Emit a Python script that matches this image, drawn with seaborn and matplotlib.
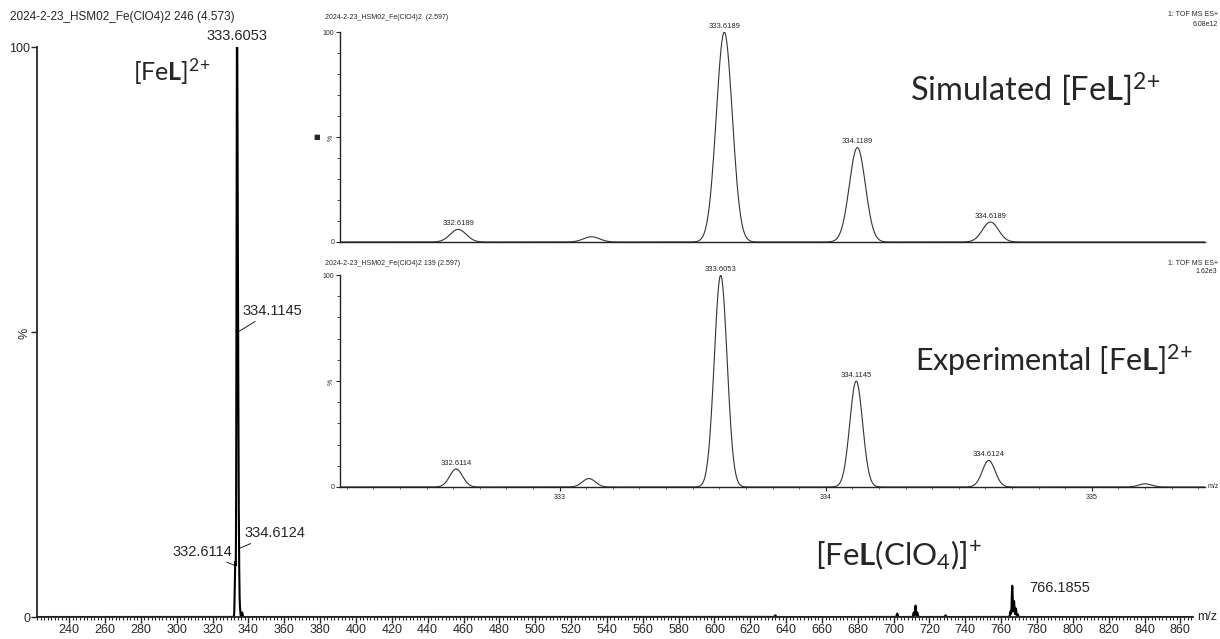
import numpy as np
import pandas as pd
import matplotlib
matplotlib.use("Agg")
import matplotlib.pyplot as plt
from matplotlib.ticker import MultipleLocator
import seaborn as sns

# Peak lists (m/z, relative intensity in %)
main_mz = [332.6114, 333.11, 333.6053, 334.1145, 334.6124, 335.2, 336.5,
           634.0, 702.0, 711.2, 712.2, 713.2, 729.0, 765.2, 766.1855, 767.19, 768.2, 769.2]
main_int = [9, 4, 100, 50, 12, 1.5, 0.8,
            0.3, 0.6, 0.8, 2.0, 0.8, 0.3, 1.0, 5.5, 2.8, 1.5, 0.5]
main_labels = {333.6053: "333.6053", 334.1145: "334.1145", 334.6124: "334.6124",
               332.6114: "332.6114", 766.1855: "766.1855"}

sim_mz = [332.6189, 333.12, 333.6189, 334.1189, 334.6189]
sim_int = [6, 2.5, 100, 45, 9.5]
sim_labels = ["332.6189", None, "333.6189", "334.1189", "334.6189"]

exp_mz = [332.6114, 333.11, 333.6053, 334.1145, 334.6124, 335.2]
exp_int = [8.5, 4, 100, 50, 12.5, 1.5]
exp_labels = ["332.6114", None, "333.6053", "334.1145", "334.6124", None]

main_ticks = list(range(240, 861, 20))
inset_ticks = [333, 334, 335]


def profile(mz, inten, sigma, lo, hi):
    # peak list -> profile trace with instrument peak width sigma
    x = [np.arange(lo, hi, 0.25)]
    for c in mz:
        x.append(np.linspace(c - 5 * sigma, c + 5 * sigma, 80))
    x = np.unique(np.concatenate(x))
    y = np.zeros_like(x)
    for c, h in zip(mz, inten):
        y += h * np.exp(-0.5 * ((x - c) / sigma) ** 2)
    return pd.DataFrame({"mz": x, "intensity": y})


sns.set_style("ticks")
plt.rcParams["font.family"] = ["Liberation Sans", "DejaVu Sans"]
plt.rcParams["mathtext.fontset"] = "custom"
plt.rcParams["mathtext.rm"] = "Lato"
plt.rcParams["mathtext.bf"] = "Lato:bold"
plt.rcParams["mathtext.it"] = "Lato:italic"

fig = plt.figure(figsize=(12.2, 6.39), dpi=100)

# ---- main spectrum ----
ax = fig.add_axes([0.0303, 0.0344, 0.9475, 0.892])
df_main = profile(main_mz, main_int, 0.25, 222, 867)
sns.lineplot(data=df_main, x="mz", y="intensity", ax=ax, color="black",
             lw=1.5, estimator=None)
ax.set_xlim(222, 867)
ax.set_ylim(0, 100)
ax.set_xticks(main_ticks)
ax.xaxis.set_minor_locator(MultipleLocator(2))
ax.set_yticks([0, 50, 100])
ax.set_yticklabels(["0", "%", "100"])
ax.get_yticklabels()[1].set_rotation(90)
ax.yaxis.set_minor_locator(MultipleLocator(10))
ax.tick_params(axis="x", which="major", length=4, width=1, labelsize=9, pad=1)
ax.tick_params(axis="x", which="minor", length=2.5, width=0.8)
ax.tick_params(axis="y", which="major", length=4, width=1, labelsize=9, pad=1)
ax.tick_params(axis="y", which="minor", length=0)
ax.set_xlabel("")
ax.set_ylabel("")
sns.despine(ax=ax)
for s in ["left", "bottom"]:
    ax.spines[s].set_linewidth(1.3)
ax.annotate("m/z", xy=(1, 0), xycoords="axes fraction", xytext=(3, 0),
            textcoords="offset points", va="center", ha="left", fontsize=9)

ann = dict(fontsize=10.5, textcoords="offset points", annotation_clip=False)
line = dict(arrowstyle="-", lw=0.6, color="black", shrinkA=0, shrinkB=0)
ax.annotate(main_labels[333.6053], xy=(333.6053, 100), xytext=(0, 3),
            ha="center", va="bottom", **ann)
ax.annotate(main_labels[334.1145], xy=(334.1145, 50), xytext=(3, 10),
            ha="left", va="bottom", arrowprops=line, **ann)
ax.annotate(main_labels[334.6124], xy=(334.6124, 12), xytext=(4, 6),
            ha="left", va="bottom", arrowprops=line, **ann)
ax.annotate(main_labels[332.6114], xy=(332.6114, 9), xytext=(-2, 5),
            ha="right", va="bottom", arrowprops=line, **ann)
ax.annotate(main_labels[766.1855], xy=(766.1855, 5.5), xytext=(12, -2),
            ha="left", va="center", **ann)

fig.text(0.008, 0.973, "2024-2-23_HSM02_Fe(ClO4)2 246 (4.573)",
         fontsize=8.5, va="center")


# ---- insets ----
def inset(rect, mz, inten, labels, sigma, xticks):
    a = fig.add_axes(rect)
    a.set_facecolor("white")
    d = profile(mz, inten, sigma, 332.0, 335.6)
    sns.lineplot(data=d, x="mz", y="intensity", ax=a, color="#333333",
                 lw=0.8, estimator=None)
    a.set_xlim(332.175, 335.425)
    a.set_ylim(0, 100)
    a.set_yticks([0, 50, 100])
    a.set_yticklabels(["0", "%", "100"])
    a.get_yticklabels()[1].set_rotation(90)
    a.yaxis.set_minor_locator(MultipleLocator(10))
    a.tick_params(axis="y", which="major", length=3, width=0.8, labelsize=5, pad=1)
    a.tick_params(axis="y", which="minor", length=2, width=0.6)
    if xticks:
        a.set_xticks(xticks)
        a.xaxis.set_minor_locator(MultipleLocator(0.1))
        a.tick_params(axis="x", which="major", length=3, width=0.8, labelsize=5, pad=2)
        a.tick_params(axis="x", which="minor", length=1.5, width=0.5)
        a.annotate("m/z", xy=(1, 0), xycoords="axes fraction", xytext=(2, 0),
                   textcoords="offset points", va="center", fontsize=5)
    else:
        a.set_xticks([])
    a.set_xlabel("")
    a.set_ylabel("")
    sns.despine(ax=a)
    for s in ["left", "bottom"]:
        a.spines[s].set_linewidth(1.0)
        a.spines[s].set_color("#222222")
    for c, h, lab in zip(mz, inten, labels):
        if lab:
            a.annotate(lab, xy=(c, h), xytext=(0, 1.5), textcoords="offset points",
                       ha="center", va="bottom", fontsize=5.5, annotation_clip=False)
    return a


ax1 = inset([0.2787, 0.6213, 0.709, 0.3286], sim_mz, sim_int, sim_labels, 0.03, None)
ax2 = inset([0.2787, 0.2379, 0.709, 0.3317], exp_mz, exp_int, exp_labels, 0.024, inset_ticks)

fig.text(0.266, 0.973, "2024-2-23_HSM02_Fe(ClO4)2  (2.597)", fontsize=5, va="center")
fig.text(0.998, 0.977, "1: TOF MS ES+", fontsize=5, va="center", ha="right")
fig.text(0.998, 0.962, "6.08e12", fontsize=5, va="center", ha="right")
fig.text(0.266, 0.588, "2024-2-23_HSM02_Fe(ClO4)2 139 (2.597)", fontsize=5, va="center")
fig.text(0.998, 0.588, "1: TOF MS ES+", fontsize=5, va="center", ha="right")
fig.text(0.998, 0.575, "1.62e3", fontsize=5, va="center", ha="right")
fig.text(0.2566, 0.786, "\u25a0", fontsize=5, va="center", family=["DejaVu Sans"])

# ---- species labels ----
fam = ["Lato", "DejaVu Sans"]
fig.text(0.109, 0.887, r"[Fe$\mathbf{L}$]$^{2{+}}$", fontsize=18, va="center", family=fam)
fig.text(0.746, 0.859, r"Simulated [Fe$\mathbf{L}$]$^{2{+}}$", fontsize=23.5, va="center", family=fam)
fig.text(0.750, 0.437, r"Experimental [Fe$\mathbf{L}$]$^{2{+}}$", fontsize=22, va="center", family=fam)
fig.text(0.668, 0.131, r"[Fe$\mathbf{L}$(ClO$_4$)]$^{+}$", fontsize=22.5, va="center", family=fam)

fig.savefig("out.png", dpi=100)
